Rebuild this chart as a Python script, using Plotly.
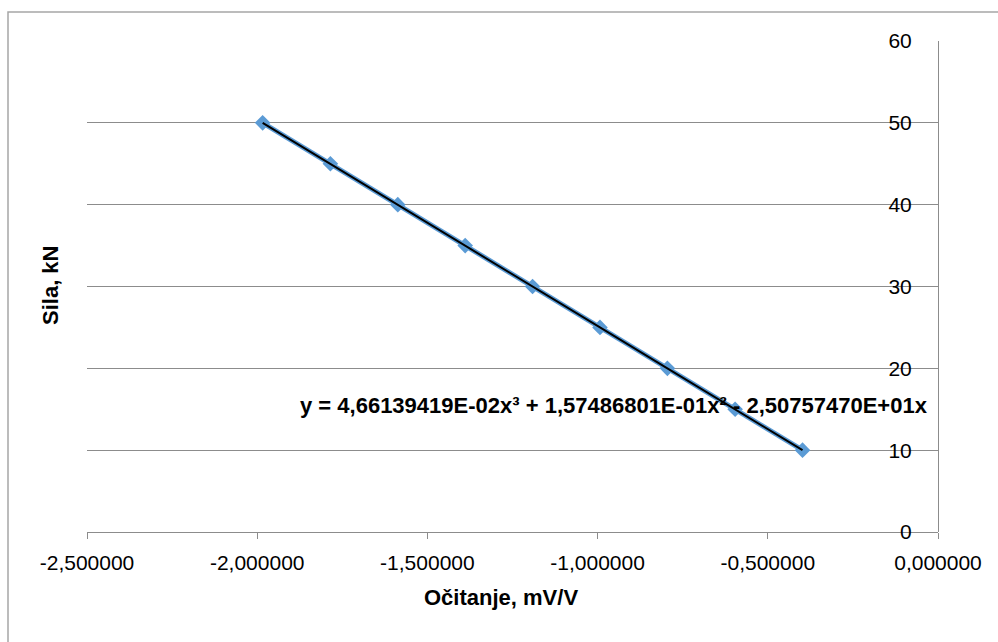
import plotly.graph_objects as go

# Data
ocitanje = [-1.984, -1.785, -1.587, -1.389, -1.191, -0.993, -0.795, -0.596, -0.398]
sila = [50, 45, 40, 35, 30, 25, 20, 15, 10]

x_tickvals = [-2.5, -2.0, -1.5, -1.0, -0.5, 0.0]
x_ticktext = ["-2,500000", "-2,000000", "-1,500000", "-1,000000", "-0,500000", "0,000000"]
y_tickvals = [0, 10, 20, 30, 40, 50, 60]
y_ticktext = ["0", "10", "20", "30", "40", "50", "60"]

equation = "y = 4,66139419E-02x³ + 1,57486801E-01x² - 2,50757470E+01x"
x_title = "Očitanje, mV/V"
y_title = "Sila, kN"

FONT = "Liberation Sans, Arial, sans-serif"
BLUE = "#5B9BD5"
GRID = "#8c8c8c"

W, H = 998, 642
L, R, T, B = 87, 60, 41, 110
PW, PH = W - L - R, H - T - B


def px_x(p):
    return (p - L) / PW


def px_y(p):
    return (H - B - p) / PH


fig = go.Figure()
fig.add_trace(go.Scatter(
    x=ocitanje, y=sila, mode="lines+markers",
    line=dict(color=BLUE, width=5),
    marker=dict(symbol="diamond", size=12, color=BLUE),
    showlegend=False, hoverinfo="x+y",
))
fig.add_trace(go.Scatter(
    x=ocitanje, y=sila, mode="lines",
    line=dict(color="#000000", width=2),
    showlegend=False, hoverinfo="skip",
))

fig.update_layout(
    width=W, height=H,
    margin=dict(l=L, r=R, t=T, b=B, pad=0),
    paper_bgcolor="white", plot_bgcolor="white",
    font=dict(family=FONT, size=21, color="#000000"),
    xaxis=dict(
        range=[-2.5, 0], tickvals=x_tickvals, ticktext=x_ticktext,
        showgrid=False, zeroline=False, showline=True, linecolor=GRID, linewidth=1,
        ticks="outside", ticklen=6, tickcolor=GRID, tickwidth=1,
        ticklabelstandoff=6,
        tickfont=dict(family=FONT, size=21, color="#000000"),
    ),
    yaxis=dict(
        range=[0, 60], tickvals=y_tickvals, ticktext=y_ticktext,
        side="left", anchor="free", position=1,
        showgrid=True, gridcolor=GRID, gridwidth=1,
        zeroline=False, showline=True, linecolor=GRID, linewidth=1,
        ticks="", ticklabelstandoff=22,
        tickfont=dict(family=FONT, size=21, color="#000000"),
    ),
    shapes=[dict(
        type="rect", xref="paper", yref="paper",
        x0=px_x(8), x1=px_x(1020), y0=px_y(660), y1=px_y(12),
        line=dict(color="#a6a6a6", width=1.5), fillcolor="rgba(0,0,0,0)", layer="below",
    )],
    annotations=[
        dict(text="<b>" + equation + "</b>", xref="paper", yref="paper",
             x=px_x(298), y=px_y(406), xanchor="left", yanchor="middle",
             showarrow=False, font=dict(family=FONT, size=22, color="#000000")),
        dict(text="<b>" + x_title + "</b>", xref="paper", yref="paper",
             x=px_x(501), y=px_y(597), xanchor="center", yanchor="middle",
             showarrow=False, font=dict(family=FONT, size=22, color="#000000")),
        dict(text="<b>" + y_title + "</b>", xref="paper", yref="paper",
             x=px_x(50), y=px_y(286), xanchor="center", yanchor="middle",
             textangle=-90, showarrow=False,
             font=dict(family=FONT, size=22, color="#000000")),
    ],
)

fig.write_html("out.html", config={"displayModeBar": False},
               post_script="document.body.style.margin='0px';")
